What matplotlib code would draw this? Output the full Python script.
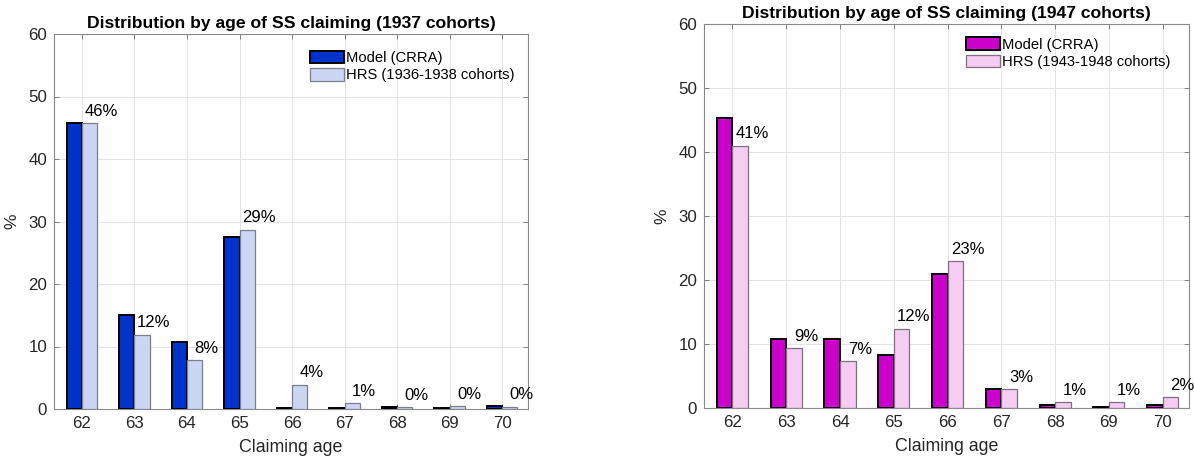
import numpy as np
import matplotlib.pyplot as plt

plt.rcParams['font.family'] = ['Liberation Sans', 'DejaVu Sans']

# Ages at which Social Security benefits are claimed
ages = [62, 63, 64, 65, 66, 67, 68, 69, 70]

# 1937 cohorts (%)
model_1937 = [45.7, 15.1, 10.8, 27.6, 0.2, 0.1, 0.3, 0.1, 0.5]
hrs_1937 = [45.7, 11.9, 7.8, 28.7, 3.9, 0.9, 0.35, 0.45, 0.4]

# 1947 cohorts (%)
model_1947 = [45.3, 10.8, 10.8, 8.3, 20.9, 3.0, 0.5, 0.2, 0.4]
hrs_1947 = [41.0, 9.3, 7.3, 12.4, 23.0, 2.9, 0.9, 0.9, 1.7]

W, H = 1194, 458


def draw_panel(ax, model, hrs, title, hrs_label, c_model, c_hrs, hrs_edge,
               leg_top):
    x = np.array(ages, dtype=float)
    bw = 0.29
    ax.bar(x - bw / 2, model, width=bw, color=c_model, edgecolor='black',
           linewidth=1.4, label='Model (CRRA)', zorder=3)
    ax.bar(x + bw / 2, hrs, width=bw, color=c_hrs, edgecolor=hrs_edge,
           linewidth=0.9, label=hrs_label, zorder=3)

    # percentage labels above the HRS bars
    for xi, v in zip(x, hrs):
        ax.annotate('%d%%' % round(v), (xi + 0.37, v), xytext=(0, 3),
                    textcoords='offset points', ha='center', va='bottom',
                    fontsize=12, color='black', zorder=4)

    ax.set_xlim(61.47, 70.49)
    ax.set_ylim(0, 60)
    ax.set_xticks(ages)
    ax.set_yticks(np.arange(0, 61, 10))
    ax.tick_params(axis='both', direction='in', top=True, right=True,
                   length=3.5, width=0.7, color='#808080', labelsize=12.2,
                   labelcolor='#262626', pad=5)
    for s in ax.spines.values():
        s.set_color('#8a8a8a')
        s.set_linewidth(0.8)
    ax.grid(True, color='#e4e4e4', linewidth=0.7, zorder=0)
    ax.set_axisbelow(True)

    ax.set_title(title, fontsize=12.6, fontweight='bold', pad=4)
    ax.set_xlabel('Claiming age', fontsize=12.8, color='#262626', labelpad=6)
    ax.set_ylabel('%', fontsize=12.5, color='#262626', labelpad=6)

    ax.legend(loc='upper left', bbox_to_anchor=(0.54, leg_top), frameon=False,
              fontsize=10.6, handlelength=2.3, handleheight=0.9,
              handletextpad=0.15, labelspacing=0.22, borderpad=0,
              borderaxespad=0)


fig = plt.figure(figsize=(W / 100, H / 100), dpi=100)

ax1 = fig.add_axes([54 / W, 1 - 409 / H, (528 - 54) / W, (409 - 34) / H])
draw_panel(ax1, model_1937, hrs_1937,
           'Distribution by age of SS claiming (1937 cohorts)',
           'HRS (1936-1938 cohorts)', '#0033cc', '#ccd6f2', '#7a7f8c', 0.955)

ax2 = fig.add_axes([704 / W, 1 - 408 / H, (1189 - 704) / W, (408 - 24) / H])
draw_panel(ax2, model_1947, hrs_1947,
           'Distribution by age of SS claiming (1947 cohorts)',
           'HRS (1943-1948 cohorts)', '#cc00cc', '#f5ccf2', '#7f6f7f', 0.965)

fig.savefig('out.png', dpi=100)
